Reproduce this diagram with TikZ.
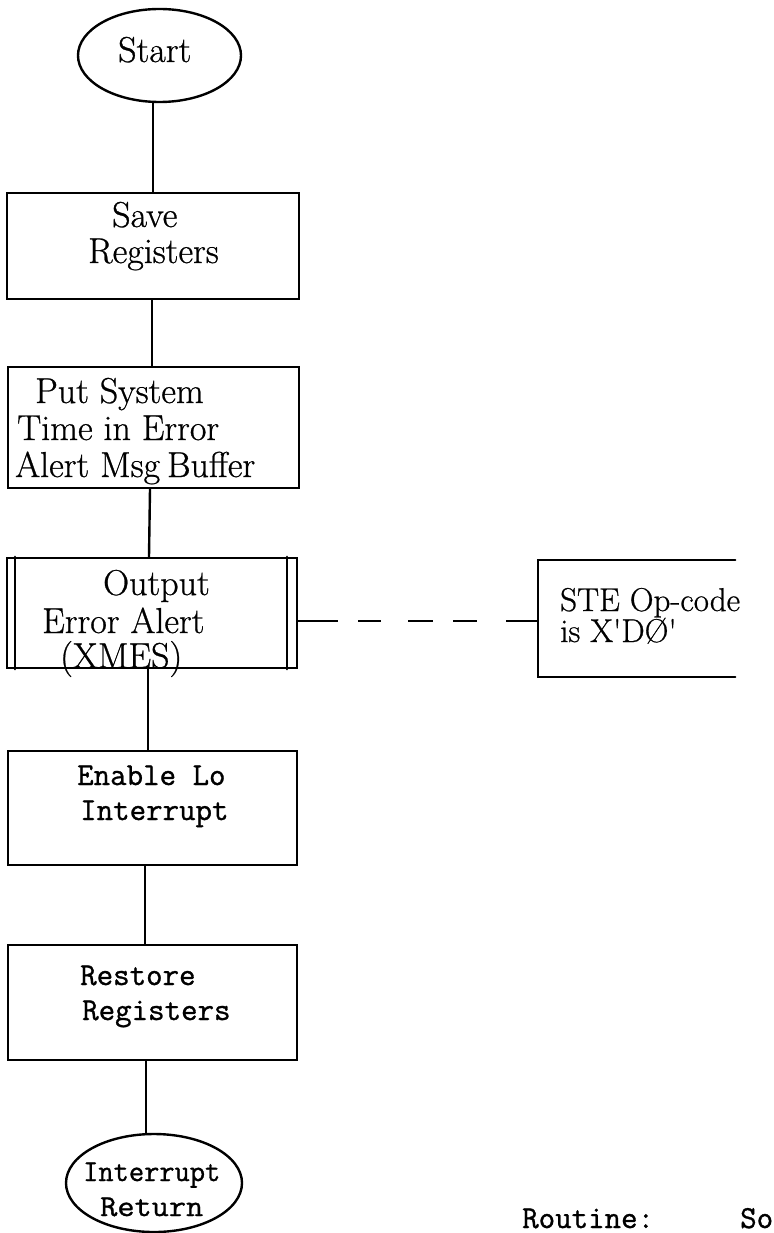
\documentclass[tikz,border=0pt]{standalone}
\usepackage{fontspec}
\newfontfamily\srffont{Latin Modern Roman}[FakeBold=0.7]
\newfontfamily\monofnt{Latin Modern Mono}[FakeBold=1.0]
\usetikzlibrary{shapes.geometric}
\tikzset{
  ln/.style={line width=2.4pt, line cap=round},
  box/.style={draw, line width=2.4pt, rectangle, inner sep=0pt},
  oval/.style={draw, line width=2.4pt, ellipse, inner sep=0pt},
  srf/.style={inner sep=0pt, anchor=base west, font=\srffont\fontsize{36}{36}\selectfont},
  mono/.style={inner sep=0pt, anchor=base west, font=\monofnt\fontsize{32}{32}\selectfont},
  dashlink/.style={line width=2.4pt, dash pattern=on 40pt off 20pt on 23pt off 27pt on 25pt off 20pt on 24pt off 29pt on 60pt}
}
\begin{document}
\begin{tikzpicture}[x=1pt,y=-1pt]
\useasboundingbox (0,0) rectangle (773,1233);
\fill[white] (0,0) rectangle (773,1233);

% shapes
\node[oval, minimum width=163pt, minimum height=93pt] (start) at (159.5,55.5) {};
\node[box, minimum width=292pt, minimum height=106pt] (save) at (153,246) {};
\node[box, minimum width=291pt, minimum height=121pt] (put) at (153.5,427.5) {};
\node[box, minimum width=290pt, minimum height=110pt] (out) at (152,613) {};
\node[box, minimum width=289pt, minimum height=114pt] (enable) at (152.5,808) {};
\node[box, minimum width=289pt, minimum height=115pt] (restore) at (152.5,1002.5) {};
\node[oval, minimum width=176pt, minimum height=98pt] (ret) at (154,1183) {};
\node[inner sep=0pt, minimum width=197pt, minimum height=117pt] (note) at (636.5,618.5) {};

% double bars of the predefined process
\draw[ln] ([xshift=9pt]out.north west) -- ([xshift=9pt]out.south west);
\draw[ln] ([xshift=-11pt]out.north east) -- ([xshift=-11pt]out.south east);

% open annotation bracket
\draw[ln] (note.north east) -- (note.north west) -- (note.south west) -- (note.south east);

% connectors
\coordinate (rs) at ([xshift=-6.5pt]restore.south);
\draw[ln] (save.north |- start.south) -- (save.north);
\draw[ln] ([xshift=-1pt]save.south) -- ([xshift=-1.5pt]put.north);
\draw[ln] ([xshift=-3.5pt]put.south) -- ([xshift=-3pt]out.north);
\draw[ln] ([xshift=-4pt]out.south) -- ([xshift=-4.5pt]enable.north);
\draw[ln] ([xshift=-7.5pt]enable.south) -- ([xshift=-7.5pt]restore.north);
\draw[ln] (rs) -- (rs |- ret.north);
\draw[dashlink] ([yshift=-8pt]out.east) -- ([yshift=-8pt]out.east -| note.west);

% texts
\node[srf] (tstart) at (118,62) {Start};
\node[srf] (tsave1) at (112,227) {Save};
\node[srf] (tsave2) at (88,263) {Registers};
\node[srf] (tput1) at (35,403) {Put System};
\node[srf] (tput2) at (17,440) {Time in Error};
\node[srf] (tput3) at (15,477) {Alert Msg\hspace{-4pt} Buffer};
\node[srf] (tout1) at (103,595) {Output};
\node[srf] (tout2) at (42,633) {Error Alert};
\node[srf] (tout3) at (60,668) {(XMES)};
\node[srf, font=\srffont\fontsize{33}{33}\selectfont] (tnote1) at (560,611) {STE Op-code};
\node[srf, font=\srffont\fontsize{33}{33}\selectfont] (tnote2) at (560,642) {is X\textquotesingle DØ\textquotesingle};
\node[mono] (ten1) at (77,785) {Enable Lo};
\node[mono] (ten2) at (80,820) {Interrupt};
\node[mono] (tre1) at (80,985) {Restore};
\node[mono] (tre2) at (82,1020) {Registers};
\node[mono, font=\monofnt\fontsize{29}{29}\selectfont] (tret1) at (83,1181) {\scalebox{1.02}[1.05]{Interrupt}};
\node[mono, font=\monofnt\fontsize{29}{29}\selectfont] (tret2) at (100,1216) {\scalebox{1.15}[1.05]{Return}};
\node[mono] (trout) at (522,1228) {Routine:};
\node[mono] (tso) at (740,1228) {So};
\end{tikzpicture}
\end{document}
